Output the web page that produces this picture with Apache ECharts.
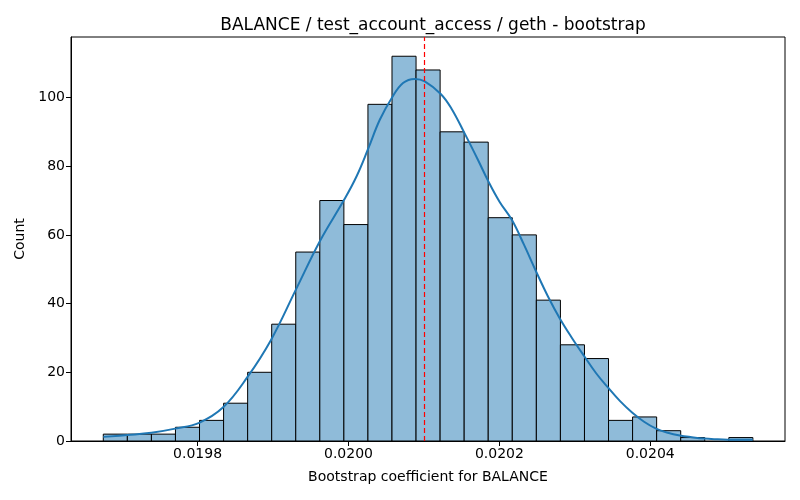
<!DOCTYPE html>
<html>
<head>
<meta charset="utf-8">
<script src="https://cdn.jsdelivr.net/npm/echarts@6/dist/echarts.min.js"></script>
<style>
  html, body { margin: 0; padding: 0; background: #fff; }
  #main { width: 800px; height: 500px; }
</style>
</head>
<body>
<div id="main"></div>
<script>
// histogram: 27 bins, first edge and bin width
var binStart = 0.019675;
var binWidth = 0.00003189;
var counts = [2, 2, 2, 4, 6, 11, 20, 34, 55, 70, 63, 98, 112, 108, 90, 87, 65, 60, 41, 28, 24, 6, 7, 3, 1, 0, 1];

// kde curve
var kdeX = [0.019675, 0.0197068, 0.0197388, 0.0197703, 0.0198021, 0.0198339, 0.0198657, 0.0198975,
    0.0199306, 0.0199624, 0.0199942, 0.0200106, 0.020026, 0.0200415, 0.0200578, 0.0200723,
    0.0200878, 0.0201011, 0.0201223, 0.0201364, 0.0201531, 0.0201717, 0.0201849, 0.0202004,
    0.0202167, 0.0202329, 0.020249, 0.0202646, 0.0202803, 0.0202962, 0.0203121, 0.020328,
    0.0203438, 0.02036, 0.0203759, 0.0203918, 0.0204077, 0.0204233, 0.0204392, 0.0204551,
    0.020471, 0.0204869, 0.0205028, 0.0205189, 0.0205359];
var kdeY = [1.2, 1.75, 2.4, 3.6, 5.3, 9.8, 18.5, 29.5,
    44.2, 58.3, 70.2, 77, 85, 93.5, 100, 104.2,
    105.4, 104.7, 101, 96.8, 89.9, 81.8, 75.8, 69.6,
    64.3, 57, 49.2, 42, 35.6, 30, 24.8, 19.8,
    15.6, 11.6, 8.3, 5.6, 3.6, 2.4, 1.6, 1.1,
    0.7, 0.5, 0.4, 0.4, 0.4];

var meanLine = 0.0201007;
var xTicks = [0.0198, 0.0200, 0.0202, 0.0204];
var yTicks = [0, 20, 40, 60, 80, 100];

var font = 'DejaVu Sans';

var bars = counts.map(function (c, i) {
    return [binStart + i * binWidth, binStart + (i + 1) * binWidth, c];
});
var kde = kdeX.map(function (x, i) { return [x, kdeY[i]]; });

var myChart = echarts.init(document.getElementById('main'));

var option = {
    animation: false,
    title: {
        text: 'BALANCE / test_account_access / geth - bootstrap',
        left: 428,
        textAlign: 'center',
        top: 12,
        textStyle: { fontFamily: font, fontSize: 17, fontWeight: 'normal', color: '#000' }
    },
    grid: {
        left: 71, right: 15, top: 37, bottom: 59,
        show: true, borderColor: '#000', borderWidth: 1, backgroundColor: 'transparent'
    },
    xAxis: {
        type: 'value',
        min: 0.0196322,
        max: 0.0205786,
        name: 'Bootstrap coefficient for BALANCE',
        nameLocation: 'middle',
        nameGap: 29,
        nameTextStyle: { fontFamily: font, fontSize: 14, color: '#000' },
        axisLine: { show: true, onZero: false, lineStyle: { color: '#000', width: 1 } },
        axisTick: { show: true, length: 5, lineStyle: { color: '#000' }, customValues: xTicks },
        axisLabel: {
            fontFamily: font, fontSize: 14, color: '#000', margin: 6,
            customValues: xTicks,
            formatter: function (v) { return v.toFixed(4); }
        },
        splitLine: { show: false }
    },
    yAxis: {
        type: 'value',
        min: 0,
        max: 117.6,
        name: 'Count',
        nameLocation: 'middle',
        nameGap: 41,
        nameTextStyle: { fontFamily: font, fontSize: 14, color: '#000' },
        axisLine: { show: true, lineStyle: { color: '#000', width: 1 } },
        axisTick: { show: true, length: 5, lineStyle: { color: '#000' }, customValues: yTicks },
        axisLabel: { fontFamily: font, fontSize: 14, color: '#000', margin: 6, customValues: yTicks },
        splitLine: { show: false }
    },
    series: [{
        type: 'custom',
        data: bars,
        encode: { x: [0, 1], y: 2 },
        renderItem: function (params, api) {
            if (api.value(2) <= 0) return;
            var p0 = api.coord([api.value(0), api.value(2)]);
            var p1 = api.coord([api.value(1), 0]);
            return {
                type: 'rect',
                shape: { x: p0[0], y: p0[1], width: p1[0] - p0[0], height: p1[1] - p0[1] },
                style: { fill: '#8fbbd9', stroke: '#000', lineWidth: 1 }
            };
        },
        z: 2
    }, {
        type: 'line',
        data: kde,
        smooth: 0.4,
        showSymbol: false,
        lineStyle: { color: '#1f77b4', width: 2 },
        itemStyle: { color: '#1f77b4' },
        z: 3,
        markLine: {
            silent: true,
            precision: 10,
            symbol: ['none', 'none'],
            label: { show: false },
            lineStyle: { color: '#ff0000', type: [5, 3], width: 1.2 },
            data: [{ xAxis: meanLine }]
        }
    }]
};

myChart.setOption(option);
</script>
</body>
</html>
